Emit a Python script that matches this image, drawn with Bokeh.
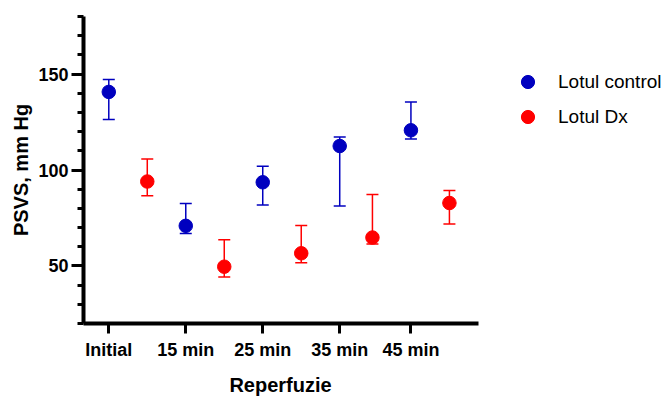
from bokeh.plotting import figure
from bokeh.models import (Range1d, FixedTicker, Whisker, TeeHead, ColumnDataSource,
                          Legend, LegendItem, Label)
from bokeh.embed import file_html
from bokeh.resources import INLINE

# ---- data ----
categories = ["Initial", "15 min", "25 min", "35 min", "45 min"]
control_x = [1, 3, 5, 7, 8.85]
dx_x = [2, 4, 6, 7.85, 9.85]
control_mean = [140.7, 70.9, 93.6, 112.5, 120.7]
control_upper = [147.2, 82.6, 102.0, 117.2, 135.5]
control_lower = [126.3, 66.9, 81.8, 81.2, 116.1]
dx_mean = [94.0, 49.6, 56.6, 64.8, 82.8]
dx_upper = [105.7, 63.6, 71.1, 87.2, 89.3]
dx_lower = [86.6, 44.2, 51.7, 61.4, 71.8]
y_major = [50, 100, 150]
y_minor = list(range(20, 181, 10))

X_AXIS_START, X_AXIS_END = 0.343, 10.6   # extent of the drawn x axis
X_VIEW_END = 15.49                        # frame extends right to hold the legend

BLUE = "#0000BF"
RED = "#FF0000"
FONT = "Liberation Sans"

p = figure(width=666, height=401, output_backend="svg", toolbar_location=None,
           x_range=Range1d(X_AXIS_START, X_VIEW_END), y_range=Range1d(20, 180),
           min_border_left=83, min_border_top=16, min_border_right=0,
           min_border_bottom=78)
p.outline_line_color = None
p.xgrid.visible = False
p.ygrid.visible = False
p.background_fill_color = "white"
p.border_fill_color = "white"

ctrl_src = ColumnDataSource(dict(x=control_x, y=control_mean, upper=control_upper, lower=control_lower))
dx_src = ColumnDataSource(dict(x=dx_x, y=dx_mean, upper=dx_upper, lower=dx_lower))

for src, col in ((ctrl_src, BLUE), (dx_src, RED)):
    w = Whisker(base="x", upper="upper", lower="lower", source=src,
                line_color=col, line_width=1.5,
                upper_head=TeeHead(size=12, line_color=col, line_width=1.5),
                lower_head=TeeHead(size=12, line_color=col, line_width=1.5))
    p.add_layout(w)

r_ctrl = p.scatter("x", "y", source=ctrl_src, size=13.5, fill_color=BLUE, line_color=BLUE)
r_dx = p.scatter("x", "y", source=dx_src, size=13.5, fill_color=RED, line_color=RED)

# axes
xa = p.xaxis[0]
xa.bounds = (X_AXIS_START, X_AXIS_END)
xa.ticker = FixedTicker(ticks=control_x, minor_ticks=[])
xa.major_label_overrides = {x: c for x, c in zip(control_x, categories)}
ya = p.yaxis[0]
ya.ticker = FixedTicker(ticks=y_major, minor_ticks=y_minor)
ya.axis_label = "PSVS, mm Hg"

for ax in (xa, ya):
    ax.axis_line_width = 4
    ax.axis_line_color = "black"
    ax.major_tick_line_width = 3
    ax.minor_tick_line_width = 3
    ax.major_tick_in = 0
    ax.minor_tick_in = 0
    ax.major_label_text_font = FONT
    ax.major_label_text_font_style = "bold"
    ax.major_label_text_font_size = "18px"
    ax.major_label_text_color = "black"
    ax.axis_label_text_font = FONT
    ax.axis_label_text_font_style = "bold"
    ax.axis_label_text_font_size = "20px"
    ax.axis_label_text_color = "black"

xa.major_tick_out = 10
xa.minor_tick_out = 0
xa.major_label_standoff = 6
ya.major_tick_out = 12
ya.minor_tick_out = 6
ya.major_label_standoff = 3
ya.axis_label_standoff = 3

# x-axis title, centred under the drawn axis (not under the legend area)
xtitle = Label(text="Reperfuzie", x=197, y=0, x_units="screen", y_units="screen",
               text_align="center", text_baseline="middle",
               text_font=FONT, text_font_size="20px", text_font_style="bold",
               text_color="black")
p.add_layout(xtitle, "below")

legend = Legend(items=[LegendItem(label="Lotul control", renderers=[r_ctrl]),
                       LegendItem(label="Lotul Dx", renderers=[r_dx])],
                location=(428, 189), margin=0, padding=0, spacing=0,
                glyph_width=33, glyph_height=35, label_height=35, label_standoff=14,
                label_text_font=FONT, label_text_font_size="19px",
                label_text_color="black",
                border_line_color=None, background_fill_alpha=0)
p.add_layout(legend)

open("out.html", "w").write(file_html(p, INLINE))
